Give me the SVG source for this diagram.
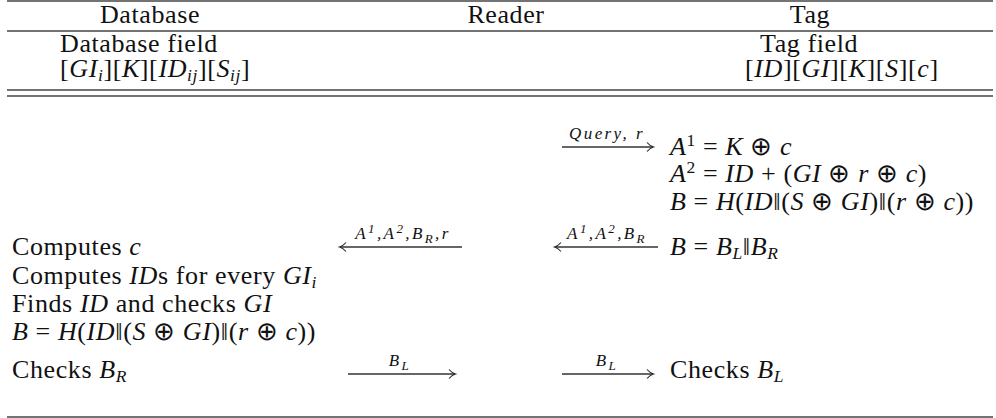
<svg xmlns="http://www.w3.org/2000/svg" width="996" height="418" viewBox="0 0 996 418" font-family="Liberation Serif, serif">
<defs>
<marker id="ah" markerWidth="10" markerHeight="12" refX="7" refY="6" orient="auto" markerUnits="userSpaceOnUse">
<path d="M1,1.5 Q4,5 7.5,6 Q4,7 1,10.5" fill="none" stroke="#222" stroke-width="1.1"/>
</marker>
<style>
text{fill:#111;font-size:26px;letter-spacing:0.6px}
.i{font-style:italic}
.sub,.sup{font-size:17.5px}
.lbl{font-size:17px;font-style:italic;letter-spacing:2.4px}
.lbl .sub,.lbl .sup{font-size:13px}
.rule{stroke:#444;stroke-width:1.4;fill:none}
.arr{stroke:#333;stroke-width:1.3;fill:none}
</style>
</defs>
<rect width="996" height="418" fill="#fff"/>
<g id="rules">
<line class="rule" x1="7" y1="1" x2="993" y2="1"/>
<line class="rule" x1="7" y1="31" x2="993" y2="31"/>
<line class="rule" x1="7" y1="90" x2="993" y2="90"/>
<line class="rule" x1="7" y1="96" x2="993" y2="96"/>
<line class="rule" x1="7" y1="417" x2="993" y2="417"/>
</g>
<g id="database" font-family="Liberation Serif, serif">
<text x="150" y="23" text-anchor="middle">Database</text>
<text x="60" y="52">Database field</text>
<text x="60" y="77">[<tspan class="i">GI</tspan><tspan class="sub i" dy="4">i</tspan><tspan dy="-4">][</tspan><tspan class="i">K</tspan>][<tspan class="i">ID</tspan><tspan class="sub i" dy="4">ij</tspan><tspan dy="-4">][</tspan><tspan class="i">S</tspan><tspan class="sub i" dy="4">ij</tspan><tspan dy="-4">]</tspan></text>
<text x="12" y="255">Computes <tspan class="i">c</tspan></text>
<text x="12" y="284">Computes <tspan class="i">ID</tspan>s for every <tspan class="i">GI</tspan><tspan class="sub i" dy="4">i</tspan></text>
<text x="12" y="312">Finds <tspan class="i">ID</tspan> and checks <tspan class="i">GI</tspan></text>
<text x="12" y="340"><tspan class="i">B</tspan> = <tspan class="i">H</tspan>(<tspan class="i">ID</tspan>‖(<tspan class="i">S</tspan> ⊕ <tspan class="i">GI</tspan>)‖(<tspan class="i">r</tspan> ⊕ <tspan class="i">c</tspan>))</text>
<text x="12" y="378">Checks <tspan class="i">B</tspan><tspan class="sub i" dy="4">R</tspan></text>
</g>
<g id="reader" font-family="Liberation Serif, serif">
<text x="506" y="23" text-anchor="middle">Reader</text>
</g>
<g id="tag" font-family="Liberation Serif, serif">
<text x="810" y="23" text-anchor="middle">Tag</text>
<text x="760" y="52">Tag field</text>
<text x="745" y="77">[<tspan class="i">ID</tspan>][<tspan class="i">GI</tspan>][<tspan class="i">K</tspan>][<tspan class="i">S</tspan>][<tspan class="i">c</tspan>]</text>
<text x="670" y="155"><tspan class="i">A</tspan><tspan class="sup" dy="-9">1</tspan><tspan dy="9"> = </tspan><tspan class="i">K</tspan> ⊕ <tspan class="i">c</tspan></text>
<text x="670" y="182"><tspan class="i">A</tspan><tspan class="sup" dy="-9">2</tspan><tspan dy="9"> = </tspan><tspan class="i">ID</tspan> + (<tspan class="i">GI</tspan> ⊕ <tspan class="i">r</tspan> ⊕ <tspan class="i">c</tspan>)</text>
<text x="670" y="210"><tspan class="i">B</tspan> = <tspan class="i">H</tspan>(<tspan class="i">ID</tspan>‖(<tspan class="i">S</tspan> ⊕ <tspan class="i">GI</tspan>)‖(<tspan class="i">r</tspan> ⊕ <tspan class="i">c</tspan>))</text>
<text x="670" y="255"><tspan class="i">B</tspan> = <tspan class="i">B</tspan><tspan class="sub i" dy="4">L</tspan><tspan dy="-4">‖</tspan><tspan class="i">B</tspan><tspan class="sub i" dy="4">R</tspan></text>
<text x="670" y="378">Checks <tspan class="i">B</tspan><tspan class="sub i" dy="4">L</tspan></text>
</g>
<g id="connectors" font-family="Liberation Serif, serif">
<line class="arr" x1="562" y1="147" x2="653" y2="147" marker-end="url(#ah)"/>
<text class="lbl" x="607" y="139" text-anchor="middle">Query, r</text>
<line class="arr" x1="658" y1="247" x2="555" y2="247" marker-end="url(#ah)"/>
<text class="lbl" x="607" y="239" text-anchor="middle">A<tspan class="sup" dy="-6">1</tspan><tspan dy="6">,A</tspan><tspan class="sup" dy="-6">2</tspan><tspan dy="6">,B</tspan><tspan class="sub" dy="4">R</tspan></text>
<line class="arr" x1="462" y1="247" x2="340" y2="247" marker-end="url(#ah)"/>
<text class="lbl" x="403" y="239" text-anchor="middle">A<tspan class="sup" dy="-6">1</tspan><tspan dy="6">,A</tspan><tspan class="sup" dy="-6">2</tspan><tspan dy="6">,B</tspan><tspan class="sub" dy="4">R</tspan><tspan dy="-4">,r</tspan></text>
<line class="arr" x1="348" y1="374" x2="455" y2="374" marker-end="url(#ah)"/>
<text class="lbl" x="400" y="366" text-anchor="middle">B<tspan class="sub" dy="4">L</tspan></text>
<line class="arr" x1="562" y1="374" x2="653" y2="374" marker-end="url(#ah)"/>
<text class="lbl" x="607" y="366" text-anchor="middle">B<tspan class="sub" dy="4">L</tspan></text>
</g>
</svg>
